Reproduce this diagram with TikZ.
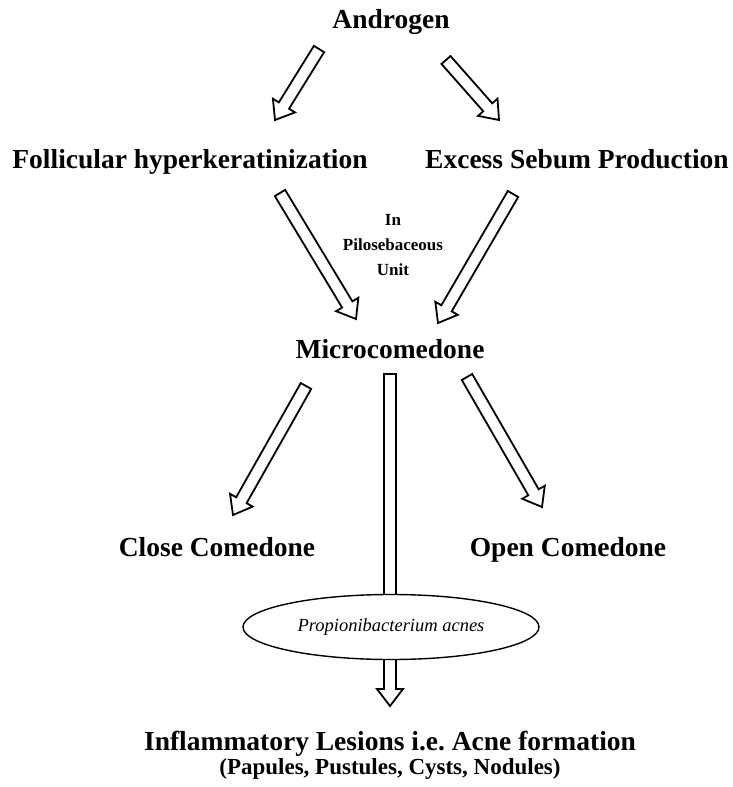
\documentclass[tikz,border=0pt]{standalone}
\usepackage{fontspec}
\setmainfont{Liberation Serif}
\usetikzlibrary{calc,shapes.geometric}
\frenchspacing
\tikzset{
  lbl/.style={font=\bfseries\fontsize{27.5}{30}\selectfont, anchor=base, inner sep=0pt},
  sublbl/.style={font=\bfseries\fontsize{23}{26}\selectfont, anchor=base, inner sep=0pt},
  smalllbl/.style={font=\bfseries\fontsize{17}{20}\selectfont, anchor=base, inner sep=0pt},
  blockarr/.style={draw=black, fill=white, line width=1.8pt, line join=miter},
  bacteria/.style={ellipse, draw=black, line width=1.4pt, fill=white, minimum width=296pt,
    minimum height=65pt, inner sep=0pt, font=\itshape\fontsize{18.5}{21}\selectfont},
}
\newcommand{\blockarrow}[2]{%
  \coordinate (bh) at ($(#2)!17pt!(#1)$);
  \draw[blockarr] ($(#1)!6pt!90:(#2)$) -- ($(bh)!6pt!90:(#2)$) -- ($(bh)!13pt!90:(#2)$)
    -- (#2) -- ($(bh)!13pt!-90:(#2)$) -- ($(bh)!6pt!-90:(#2)$) -- ($(#1)!6pt!-90:(#2)$) -- cycle;
}
\begin{document}
\begin{tikzpicture}[x=1pt,y=-1pt]
\useasboundingbox (0,0) rectangle (732,787);

% text nodes
\node[lbl] (andr) at (391,28) {Androgen};
\node[lbl] (foll) at (190,168) {Follicular hyperkeratinization};
\node[lbl] (seb) at (577,168) {Excess Sebum Production};
\node[smalllbl] (in1) at (393,225) {In};
\node[smalllbl] (in2) at (393,250) {Pilosebaceous};
\node[smalllbl] (in3) at (393,275) {Unit};
\node[lbl] (micro) at (390,358) {Microcomedone};
\node[lbl] (close) at (217,556) {Close Comedone};
\node[lbl] (open) at (568,556) {Open Comedone};
\node[lbl] (infl) at (390,750) {Inflammatory Lesions i.e. Acne formation};
\node[sublbl] (pap) at (390,774) {(Papules, Pustules, Cysts, Nodules)};

% arrow end points
\coordinate (a1t) at (319,49);  \coordinate (a1h) at (275,120);
\coordinate (a2t) at (446,60);  \coordinate (a2h) at (499,120);
\coordinate (a3t) at (280,193); \coordinate (a3h) at (356,319);
\coordinate (a4t) at (513,194); \coordinate (a4h) at (438,323);
\coordinate (a5t) at (306,386); \coordinate (a5h) at (233,515);
\coordinate (a6t) at (467,377); \coordinate (a6h) at (542,507);
\coordinate (a7t) at (390,374); \coordinate (a7h) at (390,706);

\blockarrow{a1t}{a1h}
\blockarrow{a2t}{a2h}
\blockarrow{a3t}{a3h}
\blockarrow{a4t}{a4h}
\blockarrow{a5t}{a5h}
\blockarrow{a6t}{a6h}
\blockarrow{a7t}{a7h}

\node[bacteria] (pa) at (391,627) {Propionibacterium acnes};
\end{tikzpicture}
\end{document}
